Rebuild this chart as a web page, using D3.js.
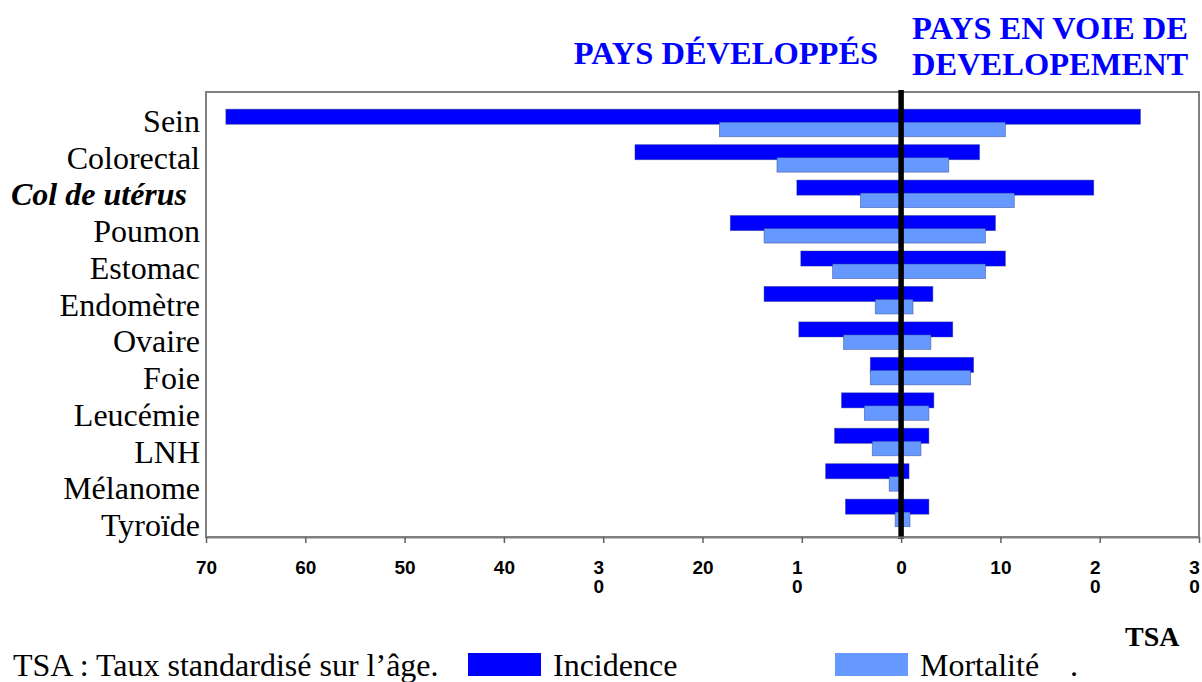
<!DOCTYPE html>
<html>
<head>
<meta charset="utf-8">
<script src="https://cdn.jsdelivr.net/npm/d3@7"></script>
<style>
  body { margin: 0; background: #fff; }
  text { font-family: "Liberation Serif", "Times New Roman", "DejaVu Serif", serif; }
</style>
</head>
<body>
<svg id="main" width="1202" height="682"></svg>
<script>
// categories (top to bottom)
var categories = ["Sein", "Colorectal", "Col de utérus", "Poumon", "Estomac", "Endomètre",
                  "Ovaire", "Foie", "Leucémie", "LNH", "Mélanome", "Tyroïde"];
// TSA, pays développés (drawn to the left)
var incidenceDev = [68.0, 26.8, 10.5, 17.2, 10.1, 13.8, 10.3, 3.1, 6.0, 6.7, 7.6, 5.6];
var mortaliteDev = [18.3, 12.5, 4.1, 13.8, 6.9, 2.6, 5.8, 3.1, 3.7, 2.9, 1.2, 0.6];
// TSA, pays en voie de developement (drawn to the right)
var incidenceDvp = [24.1, 7.9, 19.4, 9.5, 10.5, 3.2, 5.2, 7.3, 3.3, 2.8, 0.8, 2.8];
var mortaliteDvp = [10.5, 4.8, 11.4, 8.5, 8.5, 1.2, 3.0, 7.0, 2.8, 2.0, 0.2, 0.9];

var tickValues = [-70, -60, -50, -40, -30, -20, -10, 0, 10, 20, 30];
var tickLabels = ["70", "60", "50", "40", "3\n0", "20", "1\n0", "0", "10", "2\n0", "3\n0"];

var seriesNames = ["Incidence", "Mortalité"];
var seriesColors = ["#0000ff", "#6699ff"];

var svg = d3.select("#main");

var x = d3.scaleLinear()
    .domain([-70, 30])
    .range([206, 1199]);

var y = d3.scaleBand()
    .domain(categories)
    .range([105.3, 530.7])
    .paddingInner(0.22)
    .paddingOuter(0.11);

// labels sit on their own spacing (as in the original)
var yLab = d3.scalePoint()
    .domain(categories)
    .range([132, 536]);

// plot frame
svg.append("rect")
    .attr("x", x(-70)).attr("y", 92)
    .attr("width", x(30) - x(-70)).attr("height", 537 - 92)
    .attr("fill", "none")
    .attr("stroke", "#808080")
    .attr("stroke-width", 2);

// bars
var bw = y.bandwidth();
function drawBars(vals, sign, color, offset, h) {
    svg.append("g")
      .selectAll("rect")
      .data(categories)
      .enter()
      .append("rect")
        .attr("x", function (d, i) { return sign < 0 ? x(-vals[i]) : x(0); })
        .attr("width", function (d, i) { return Math.abs(x(sign * vals[i]) - x(0)); })
        .attr("y", function (d) { return y(d) + offset; })
        .attr("height", h)
        .attr("fill", color)
        .attr("stroke", "#2a3a8a")
        .attr("stroke-opacity", 0.55)
        .attr("stroke-width", 0.8);
}
drawBars(incidenceDev, -1, seriesColors[0], 0, bw * 0.545);
drawBars(incidenceDvp, 1, seriesColors[0], 0, bw * 0.545);
drawBars(mortaliteDev, -1, seriesColors[1], bw * 0.47, bw * 0.525);
drawBars(mortaliteDvp, 1, seriesColors[1], bw * 0.47, bw * 0.525);

// zero line
svg.append("line")
    .attr("x1", x(0)).attr("x2", x(0))
    .attr("y1", 90).attr("y2", 539)
    .attr("stroke", "#000")
    .attr("stroke-width", 5.5);

// x axis
var xAxis = svg.append("g")
    .attr("transform", "translate(0,537)")
    .call(d3.axisBottom(x)
        .tickValues(tickValues)
        .tickSize(6)
        .tickSizeOuter(0)
        .tickFormat(function (d, i) { return tickLabels[i]; }));
xAxis.select(".domain").attr("stroke", "#808080").attr("stroke-width", 2);
xAxis.selectAll(".tick line").attr("stroke", "#606060").attr("stroke-width", 1.5);
xAxis.selectAll(".tick text").each(function (d, i) {
    var t = d3.select(this);
    var parts = tickLabels[i].split("\n");
    t.text(null)
      .attr("y", 36.5)
      .attr("dy", 0)
      .attr("fill", "#000")
      .style("font-family", "'Liberation Sans', Arial, sans-serif")
      .style("font-weight", "bold")
      .style("font-size", "19px");
    parts.forEach(function (p, k) {
        t.append("tspan")
          .attr("x", parts.length > 1 ? -5 : 0)
          .attr("dy", k === 0 ? 0 : 19.5)
          .text(p);
    });
});

// category labels
svg.append("g")
  .selectAll("text")
  .data(categories)
  .enter()
  .append("text")
    .attr("x", function (d) { return d === "Col de utérus" ? 11 : 200; })
    .attr("y", function (d) { return yLab(d); })
    .attr("text-anchor", function (d) { return d === "Col de utérus" ? "start" : "end"; })
    .style("font-size", "32px")
    .style("font-weight", function (d) { return d === "Col de utérus" ? "bold" : "normal"; })
    .style("font-style", function (d) { return d === "Col de utérus" ? "italic" : "normal"; })
    .text(function (d) { return d; });

// titles
svg.append("text")
    .attr("x", 726).attr("y", 64)
    .attr("text-anchor", "middle")
    .attr("fill", "#0000ff")
    .style("font-size", "32.5px").style("font-weight", "bold")
    .text("PAYS DÉVELOPPÉS");
svg.append("text")
    .attr("x", 912).attr("y", 39)
    .attr("fill", "#0000ff")
    .style("font-size", "32.5px").style("font-weight", "bold")
    .text("PAYS EN VOIE DE");
svg.append("text")
    .attr("x", 912).attr("y", 75)
    .attr("fill", "#0000ff")
    .style("font-size", "32.5px").style("font-weight", "bold")
    .text("DEVELOPEMENT");

// axis title
svg.append("text")
    .attr("x", 1125).attr("y", 646)
    .style("font-size", "28px").style("font-weight", "bold")
    .text("TSA");

// footnote + legend
svg.append("text")
    .attr("x", 13).attr("y", 676)
    .style("font-size", "32px")
    .text("TSA : Taux standardisé sur l’âge.");

var legendX = [468, 835];
seriesNames.forEach(function (name, i) {
    svg.append("rect")
        .attr("x", legendX[i]).attr("y", 653)
        .attr("width", 73).attr("height", 23)
        .attr("fill", seriesColors[i]);
    svg.append("text")
        .attr("x", legendX[i] + 85).attr("y", 676)
        .style("font-size", "32px")
        .text(name);
});
svg.append("text")
    .attr("x", 1070).attr("y", 676)
    .style("font-size", "32px")
    .text(".");
</script>
</body>
</html>
